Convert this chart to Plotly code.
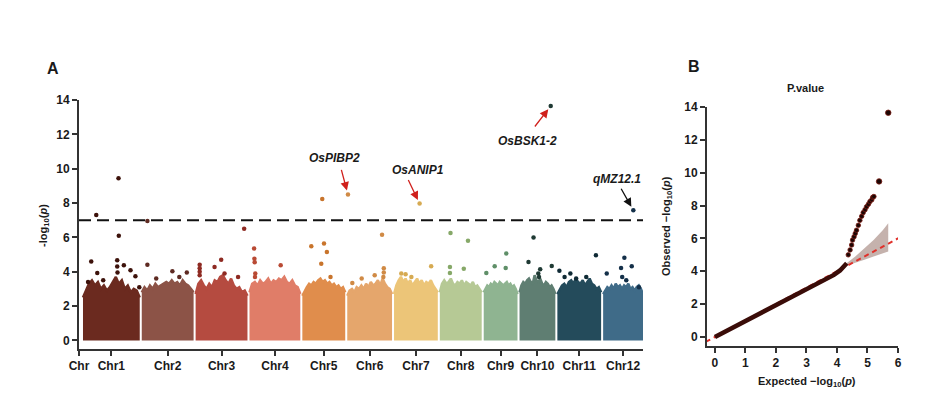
import numpy as np
import plotly.graph_objects as go

# ---------------- data ----------------
chromosomes = ["Chr1", "Chr2", "Chr3", "Chr4", "Chr5", "Chr6",
               "Chr7", "Chr8", "Chr9", "Chr10", "Chr11", "Chr12"]
chr_lengths = [39.3, 35.9, 35.9, 35.2, 29.7, 31.0, 30.3, 29.0, 23.4, 24.8, 30.3, 27.6]

block_colors = ["#6b2a1f", "#8c5347", "#b54b40", "#e07d68", "#e08d4c", "#e5a66c",
                "#ecc578", "#b6c995", "#8fb491", "#5f7e72", "#244b5b", "#3f6b88"]
point_colors = ["#3d120b", "#5e2a22", "#8e2a22", "#b94a34", "#c8742c", "#d08a45",
                "#d6aa52", "#86a868", "#5f8f68", "#1f3a34", "#0f2a35", "#143049"]

# upper envelope of the dense SNP cloud (evenly along each chromosome)
prof1 = [2.5, 2.9, 3.3, 3.5, 3.2, 3.4, 3.0, 3.2, 2.9, 3.1, 3.4, 3.7, 3.3, 3.5, 3.0, 3.2, 2.8, 3.0, 2.9, 2.5]
prof2 = [2.8, 3.1, 2.9, 3.2, 3.0, 3.3, 3.1, 3.2, 3.3, 3.4, 3.3, 3.5, 3.3, 3.4, 3.2, 3.5, 3.3, 3.2, 3.0, 2.8]
prof3 = [2.7, 3.3, 3.5, 3.2, 3.0, 3.3, 3.1, 3.5, 3.4, 3.7, 3.8, 3.5, 3.3, 3.6, 3.2, 3.0, 3.1, 2.8, 2.9, 2.6]
prof4 = [2.8, 3.3, 3.4, 3.2, 3.5, 3.3, 3.4, 3.6, 3.3, 3.5, 3.4, 3.6, 3.5, 3.7, 3.4, 3.3, 3.5, 3.2, 3.1, 2.7]
prof5 = [2.6, 2.9, 3.1, 3.3, 3.2, 3.4, 3.3, 3.5, 3.6, 3.4, 3.5, 3.3, 3.4, 3.2, 3.3, 3.1, 3.2, 3.0, 3.1, 2.8]
prof6 = [2.6, 2.9, 3.0, 2.8, 3.1, 3.0, 3.2, 3.0, 3.3, 3.1, 3.4, 3.2, 3.3, 3.5, 3.2, 3.6, 3.3, 3.1, 3.0, 2.7]
prof7 = [2.7, 3.2, 3.5, 3.7, 3.4, 3.6, 3.3, 3.5, 3.2, 3.4, 3.6, 3.3, 3.5, 3.2, 3.4, 3.3, 3.5, 3.2, 3.0, 2.8]
prof8 = [2.8, 3.3, 3.5, 3.3, 3.4, 3.6, 3.3, 3.2, 3.4, 3.3, 3.5, 3.2, 3.4, 3.3, 3.2, 3.4, 3.1, 3.2, 3.0, 2.8]
prof9 = [2.8, 3.0, 3.2, 3.1, 3.3, 3.2, 3.4, 3.3, 3.2, 3.4, 3.3, 3.2, 3.3, 3.4, 3.2, 3.3, 3.1, 3.2, 3.0, 2.7]
prof10 = [2.8, 3.2, 3.4, 3.3, 3.5, 3.6, 3.4, 3.3, 3.8, 3.5, 3.4, 3.6, 3.3, 3.2, 3.4, 3.3, 3.1, 3.2, 3.0, 2.7]
prof11 = [2.7, 3.0, 3.2, 3.3, 3.1, 3.4, 3.5, 3.3, 3.6, 3.4, 3.3, 3.5, 3.2, 3.4, 3.6, 3.3, 3.2, 3.0, 3.1, 2.8]
prof12 = [2.7, 2.9, 3.1, 3.0, 3.2, 3.0, 3.3, 3.1, 3.2, 3.0, 3.2, 3.1, 3.3, 3.0, 3.1, 2.9, 3.1, 3.2, 3.0, 2.7]
profiles = [prof1, prof2, prof3, prof4, prof5, prof6, prof7, prof8, prof9, prof10, prof11, prof12]

# individual SNPs above the dense cloud: chromosome, position (Mb), -log10(p)
out_chr = [1, 1, 1, 1, 1, 1, 1, 1, 1, 1, 1, 1, 1, 1,
           2, 2, 2, 2, 2, 2,
           3, 3, 3, 3, 3, 3, 3, 3, 3,
           4, 4, 4, 4, 4, 4,
           5, 5, 5, 5, 5, 5,
           6, 6, 6, 6, 6, 6, 6, 6,
           7, 7, 7, 7, 7,
           8, 8, 8, 8, 8,
           9, 9, 9, 9,
           10, 10, 10, 10, 10, 10, 10,
           11, 11, 11, 11, 11, 11,
           12, 12, 12, 12, 12, 12, 12, 12]
out_pos = [9.2, 24.6, 24.8, 5.7, 9.9, 23.7, 23.7, 23.9, 28.3, 32.9, 36.3, 39.0, 3.5, 14.0,
           3.9, 3.9, 21.2, 31.2, 10.0, 26.0,
           2.8, 2.8, 2.8, 2.8, 17.7, 13.1, 29.4, 33.6, 20.0,
           3.2, 3.4, 3.6, 4.0, 3.8, 21.6,
           13.8, 6.2, 15.0, 17.0, 13.1, 19.5,
           0.5, 24.1, 25.3, 25.3, 25.0, 19.0, 10.0, 3.5,
           17.7, 25.7, 5.0, 8.0, 12.0,
           7.4, 19.5, 7.0, 7.0, 16.6,
           15.6, 7.6, 1.8, 15.2,
           21.6, 9.7, 6.2, 14.3, 22.3, 13.0, 13.5,
           1.4, 9.0, 26.7, 5.0, 20.0, 13.0,
           20.9, 14.7, 19.8, 12.4, 13.2, 2.5, 24.8, 16.0]
out_val = [7.3, 9.45, 6.09, 4.6, 3.93, 4.67, 4.3, 3.95, 4.38, 4.08, 3.73, 3.1, 3.4, 3.5,
           6.95, 4.41, 4.03, 3.95, 3.6, 3.7,
           4.4, 4.2, 4.0, 3.8, 4.7, 4.28, 3.7, 6.5, 3.9,
           5.35, 4.75, 4.55, 3.9, 3.7, 4.38,
           8.23, 5.48, 5.64, 5.15, 4.47, 3.7,
           8.5, 6.16, 4.2, 3.95, 3.7, 3.8, 3.6, 3.35,
           7.97, 4.32, 3.9, 3.85, 3.7,
           6.26, 5.8, 4.28, 3.93, 4.18,
           5.06, 4.32, 3.93, 4.22,
           13.65, 5.99, 4.57, 4.14, 4.34, 3.9, 3.7,
           4.05, 3.89, 4.96, 3.7, 3.7, 3.6,
           7.58, 4.82, 4.32, 4.22, 3.7, 3.89, 3.1, 3.5]

threshold = 7.0

gene_labels = ["OsPIBP2", "OsANIP1", "OsBSK1-2", "qMZ12.1"]
gene_chr = [6, 7, 10, 12]
gene_pos = [0.5, 17.7, 21.6, 20.9]
gene_val = [8.5, 7.97, 13.65, 7.58]

# QQ plot
qq_exp_bulk = [0, 0.5, 1.0, 1.5, 2.0, 2.5, 3.0, 3.5, 3.7, 3.9, 4.1, 4.32]
qq_obs_bulk = [0, 0.48, 0.97, 1.45, 1.93, 2.41, 2.9, 3.38, 3.55, 3.78, 4.05, 4.49]
qq_exp_tail = [4.37, 4.43, 4.48, 4.51, 4.56, 4.6, 4.64, 4.7, 4.75, 4.81, 4.86, 4.92,
               4.97, 5.03, 5.08, 5.14, 5.17, 5.21]
qq_obs_tail = [5.0, 5.3, 5.6, 5.9, 6.1, 6.3, 6.5, 6.8, 7.1, 7.35, 7.57, 7.75,
               7.93, 8.08, 8.24, 8.35, 8.5, 8.55]
qq_exp_top = [5.38, 5.68]
qq_obs_top = [9.47, 13.65]
ci_x = [4.25, 4.6, 4.9, 5.2, 5.5, 5.68]
ci_upper = [4.4, 4.9, 5.4, 5.9, 6.5, 6.92]
ci_lower = [4.3, 4.5, 4.7, 4.9, 5.1, 5.2]

# ---------------- layout helpers ----------------
START = 2.76
GAP = 1.4
offsets = []
acc = START
for L in chr_lengths:
    offsets.append(acc)
    acc += L + GAP
x_end = acc - GAP
centers = [o + L / 2 for o, L in zip(offsets, chr_lengths)]

FONT = "Liberation Sans, Arial, sans-serif"
INK = "#1a1a1a"

fig = go.Figure()

# dense cloud blocks
for i in range(12):
    n = len(profiles[i])
    xs = np.linspace(offsets[i], offsets[i] + chr_lengths[i], n)
    fig.add_trace(go.Scatter(
        x=xs, y=profiles[i], mode="lines", fill="tozeroy",
        fillcolor=block_colors[i], line=dict(color=block_colors[i], width=2.5),
        hoverinfo="skip", showlegend=False, xaxis="x", yaxis="y"))

# individual SNPs
ox = [offsets[c - 1] + p for c, p in zip(out_chr, out_pos)]
oc = [point_colors[c - 1] for c in out_chr]
fig.add_trace(go.Scatter(
    x=ox, y=out_val, mode="markers",
    marker=dict(color=oc, size=4.5, line=dict(width=0)),
    showlegend=False, xaxis="x", yaxis="y", cliponaxis=False))

# threshold line
fig.add_trace(go.Scatter(
    x=[0, x_end], y=[threshold, threshold], mode="lines",
    line=dict(color="#111111", width=2, dash="12px,6px"),
    showlegend=False, hoverinfo="skip", xaxis="x", yaxis="y"))

# gene annotations
arrow_offsets = [(-7, -26), (-12, -25), (-17, 22), (-13, -23)]
text_shifts = [(-13, 36), (-2, 34), (-23, -35), (-16, 31)]
arrow_colors = ["#d0201c", "#d0201c", "#d0201c", "#111111"]
for k in range(4):
    gx = offsets[gene_chr[k] - 1] + gene_pos[k]
    gy = gene_val[k]
    fig.add_annotation(x=gx, y=gy, xref="x", yref="y", text="", showarrow=True,
                       ax=arrow_offsets[k][0], ay=arrow_offsets[k][1],
                       arrowhead=2, arrowsize=1.3, arrowwidth=1.3,
                       arrowcolor=arrow_colors[k], standoff=4)
    fig.add_annotation(x=gx, y=gy, xref="x", yref="y",
                       text="<b><i>%s</i></b>" % gene_labels[k], showarrow=False,
                       xshift=text_shifts[k][0], yshift=text_shifts[k][1],
                       xanchor="center", yanchor="middle",
                       font=dict(family=FONT, size=12, color=INK))

# QQ plot
fig.add_trace(go.Scatter(
    x=ci_x + ci_x[::-1], y=ci_upper + ci_lower[::-1], mode="lines", fill="toself",
    fillcolor="rgba(150,115,105,0.55)", line=dict(width=0),
    showlegend=False, hoverinfo="skip", xaxis="x2", yaxis="y2"))
fig.add_trace(go.Scatter(
    x=[-0.3, 6.3], y=[-0.3, 6.3], mode="lines",
    line=dict(color="#e0302a", width=2, dash="5px,4px"),
    showlegend=False, hoverinfo="skip", xaxis="x2", yaxis="y2"))
fig.add_trace(go.Scatter(
    x=qq_exp_bulk, y=qq_obs_bulk, mode="lines",
    line=dict(color="#3a0c08", width=4.5),
    showlegend=False, xaxis="x2", yaxis="y2"))
fig.add_trace(go.Scatter(
    x=qq_exp_tail, y=qq_obs_tail, mode="markers",
    marker=dict(color="#1c0604", size=4.5, line=dict(color="#7a1a12", width=0.8)),
    showlegend=False, xaxis="x2", yaxis="y2"))
fig.add_trace(go.Scatter(
    x=qq_exp_top, y=qq_obs_top, mode="markers",
    marker=dict(color="#1c0604", size=5.5, line=dict(color="#7a1a12", width=0.8)),
    showlegend=False, xaxis="x2", yaxis="y2", cliponaxis=False))

# page body has an 8px margin: the figure is drawn 8px in from the top-left
BODY = 8
W, H = 945 - 2 * BODY, 397 - 2 * BODY
def px_x(p):
    return (p - BODY) / W
def px_y(p):
    return (H - (p - BODY)) / H

tickfont = dict(family=FONT, size=12, color=INK, weight="bold")
axis_common = dict(showline=True, linecolor="#333333", linewidth=2, ticks="outside",
                   ticklen=5, tickwidth=2, tickcolor="#333333", showgrid=False,
                   zeroline=False, tickfont=tickfont, fixedrange=True, automargin=False)

fig.update_layout(
    template="none",
    width=W, height=H, margin=dict(l=0, r=0, t=0, b=0, pad=0, autoexpand=False),
    paper_bgcolor="white", plot_bgcolor="white",
    xaxis=dict(domain=[px_x(79), px_x(643)], range=[0, x_end],
               tickvals=[0] + centers, ticktext=["Chr"] + chromosomes,
               anchor="y", **axis_common),
    yaxis=dict(domain=[px_y(349), px_y(100)], range=[-0.5, 14],
               tickvals=list(range(0, 15, 2)), anchor="x", **axis_common),
    xaxis2=dict(domain=[px_x(707), px_x(898)], range=[-0.26, 6.0],
                tickvals=list(range(0, 7)), anchor="y2", **axis_common),
    yaxis2=dict(domain=[px_y(346), px_y(107)], range=[-0.55, 14],
                tickvals=list(range(0, 15, 2)), anchor="x2", **axis_common),
)

ann_font = dict(family=FONT, color=INK)
def paper_text(px, py, text, size, angle=0):
    fig.add_annotation(x=px_x(px), y=px_y(py), xref="paper", yref="paper",
                       showarrow=False, text=text, textangle=angle,
                       xanchor="center", yanchor="middle",
                       font=dict(size=size, **ann_font))

paper_text(53, 68, "<b>A</b>", 16)
paper_text(694, 67, "<b>B</b>", 16)
paper_text(805, 88, "<b>P.value</b>", 11)
paper_text(44, 226, "<b>-log<sub>10</sub>(<i>p</i>)</b>", 11, -90)
paper_text(667, 226, "<b>Observed −log<sub>10</sub>(<i>p</i>)</b>", 11, -90)
paper_text(807, 382, "<b>Expected −log<sub>10</sub>(<i>p</i>)</b>", 11)

fig.write_html("out.html")
